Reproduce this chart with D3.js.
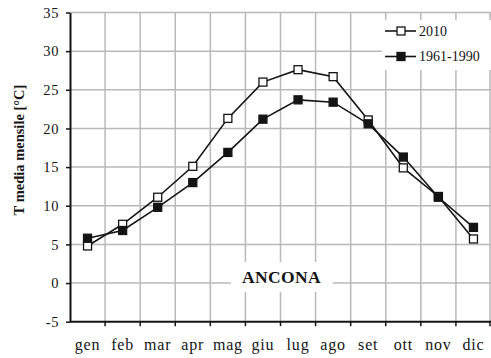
<!DOCTYPE html>
<html>
<head>
<meta charset="utf-8">
<script src="https://cdn.jsdelivr.net/npm/d3@7"></script>
<style>
  html, body { margin: 0; padding: 0; background: #fff; }
  svg { display: block; font-family: "Liberation Serif", "Times New Roman", serif; }
</style>
</head>
<body>
<svg id="chart" width="491" height="358"></svg>
<script>
// Monthly mean temperature, Ancona
const months = ["gen", "feb", "mar", "apr", "mag", "giu", "lug", "ago", "set", "ott", "nov", "dic"];
const t2010 = [4.8, 7.6, 11.1, 15.1, 21.3, 26.0, 27.6, 26.7, 21.1, 14.9, 11.2, 5.7];
const t6190 = [5.8, 6.8, 9.8, 13.0, 16.9, 21.2, 23.7, 23.4, 20.6, 16.3, 11.1, 7.2];
const yTicks = [-5, 0, 5, 10, 15, 20, 25, 30, 35];
const seriesNames = ["2010", "1961-1990"];
const yTitle = "T media mensile [°C]";
const station = "ANCONA";

(function draw() {
  const svg = d3.select("#chart");
  const pLeft = 70, pRight = 491, pTop = 12.5, pBottom = 321.7;

  const x = d3.scaleBand().domain(months).range([pLeft, pRight]).padding(0);
  const y = d3.scaleLinear().domain([-5, 35]).range([pBottom, pTop]);
  const cx = m => x(m) + x.bandwidth() / 2;

  const grid = "#b9b9b9";
  const ink = "#141414";

  // horizontal gridlines
  svg.append("g").selectAll("line").data(yTicks.filter(v => v > -5)).join("line")
    .attr("x1", pLeft).attr("x2", pRight)
    .attr("y1", d => y(d)).attr("y2", d => y(d))
    .attr("stroke", grid).attr("stroke-width", 1.5);

  // vertical gridlines at category boundaries
  const bounds = months.map(m => Math.min(x(m) + x.bandwidth(), pRight - 1));
  svg.append("g").selectAll("line").data(bounds).join("line")
    .attr("x1", d => d).attr("x2", d => d)
    .attr("y1", pTop).attr("y2", pBottom)
    .attr("stroke", grid).attr("stroke-width", 1.5);

  // white panels behind the legend and the station label
  svg.append("rect").attr("x", 382).attr("y", 20).attr("width", 109).attr("height", 50).attr("fill", "#fff");
  svg.append("rect").attr("x", 231).attr("y", 262).attr("width", 102).attr("height", 30).attr("fill", "#fff");

  // y axis
  const yAxis = svg.append("g").attr("transform", `translate(${pLeft},0)`)
    .call(d3.axisLeft(y).tickValues(yTicks).tickFormat(d => String(d))
      .tickSize(4).tickSizeOuter(0).tickPadding(7));
  yAxis.select(".domain").attr("stroke", ink).attr("stroke-width", 2);
  yAxis.selectAll(".tick line").attr("stroke", ink).attr("stroke-width", 1.5);
  yAxis.selectAll(".tick text")
    .attr("font-family", "Liberation Serif").attr("font-size", 14.5).attr("fill", ink)
    .attr("letter-spacing", "0.6px");

  // x axis: ticks at category boundaries, labels at category centres
  const xAxisG = svg.append("g").attr("transform", `translate(0,${pBottom})`);
  xAxisG.append("line").attr("x1", pLeft).attr("x2", pRight)
    .attr("stroke", ink).attr("stroke-width", 2);
  xAxisG.selectAll("line.tk").data(bounds).join("line").attr("class", "tk")
    .attr("x1", d => d).attr("x2", d => d).attr("y1", 0).attr("y2", 4.5)
    .attr("stroke", ink).attr("stroke-width", 1.5);
  xAxisG.selectAll("text").data(months).join("text")
    .attr("x", d => cx(d)).attr("y", 28)
    .attr("text-anchor", "middle")
    .attr("font-size", 16).attr("letter-spacing", "0.8px").attr("fill", ink)
    .text(d => d);

  // y axis title
  svg.append("text")
    .attr("transform", "translate(24,150) rotate(-90)")
    .attr("text-anchor", "middle")
    .attr("font-size", 14.5).attr("font-weight", "bold").attr("fill", ink)
    .text(yTitle);

  // station label
  svg.append("text")
    .attr("x", 281.5).attr("y", 282.5).attr("text-anchor", "middle")
    .attr("font-size", 17.5).attr("font-weight", "bold").attr("letter-spacing", "0.4px").attr("fill", ink)
    .text(station);

  // series
  const line = d3.line().x((d, i) => cx(months[i])).y(d => y(d));
  const series = [
    { name: seriesNames[0], values: t2010, fill: "#fff" },
    { name: seriesNames[1], values: t6190, fill: ink }
  ];
  const ms = 8;
  series.forEach(s => {
    const g = svg.append("g");
    g.append("path").datum(s.values).attr("d", line)
      .attr("fill", "none").attr("stroke", ink).attr("stroke-width", 1.6);
    g.selectAll("rect").data(s.values).join("rect")
      .attr("x", (d, i) => cx(months[i]) - ms / 2).attr("y", d => y(d) - ms / 2)
      .attr("width", ms).attr("height", ms)
      .attr("fill", s.fill).attr("stroke", ink).attr("stroke-width", 1.3);
  });

  // legend
  const lg = svg.append("g");
  series.forEach((s, i) => {
    const ly = 31 + i * 25.5;
    lg.append("line").attr("x1", 385).attr("x2", 416).attr("y1", ly).attr("y2", ly)
      .attr("stroke", ink).attr("stroke-width", 1.6);
    lg.append("rect").attr("x", 401 - ms / 2).attr("y", ly - ms / 2).attr("width", ms).attr("height", ms)
      .attr("fill", s.fill).attr("stroke", ink).attr("stroke-width", 1.3);
    lg.append("text").attr("x", 419).attr("y", ly + 4.5)
      .attr("font-size", 14).attr("fill", ink).text(s.name);
  });
})();
</script>
</body>
</html>
